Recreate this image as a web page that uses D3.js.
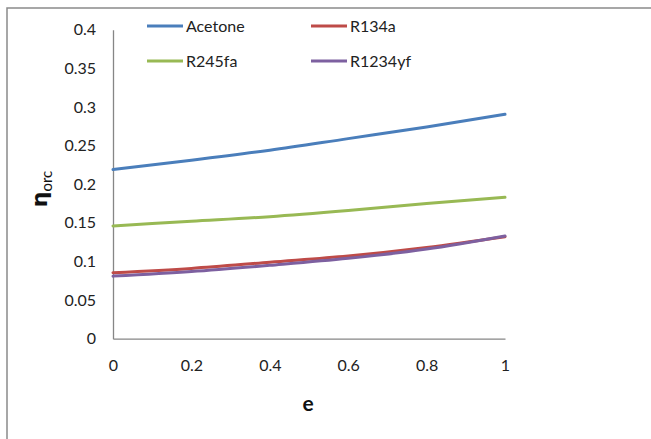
<!DOCTYPE html>
<html>
<head>
<meta charset="utf-8">
<script src="https://cdn.jsdelivr.net/npm/d3@7"></script>
<style>
  html, body { margin: 0; padding: 0; background: #fff; }
  svg { display: block; font-family: Lato, "Open Sans", sans-serif; }
</style>
</head>
<body>
<svg id="chart" width="651" height="439"></svg>
<script>
// Expansion ratio e on the x axis
const eValues = [0, 0.2, 0.4, 0.6, 0.8, 1];

// ORC thermal efficiency per working fluid
const acetone = [0.219, 0.231, 0.244, 0.259, 0.274, 0.2905];
const r134a   = [0.0855, 0.091, 0.099, 0.107, 0.118, 0.132];
const r245fa  = [0.146, 0.152, 0.158, 0.166, 0.175, 0.183];
const r1234yf = [0.081, 0.087, 0.095, 0.104, 0.116, 0.133];

const seriesNames  = ["Acetone", "R134a", "R245fa", "R1234yf"];
const seriesValues = [acetone, r134a, r245fa, r1234yf];
const seriesColors = ["#4a7ebb", "#be4b48", "#98b954", "#7d60a0"];

const xTicks = [0, 0.2, 0.4, 0.6, 0.8, 1];
const yTicks = [0, 0.05, 0.1, 0.15, 0.2, 0.25, 0.3, 0.35, 0.4];

const svg = d3.select("#chart");

// outer chart frame
svg.append("rect")
  .attr("x", 7).attr("y", 8)
  .attr("width", 700).attr("height", 500)
  .attr("fill", "none").attr("stroke", "#8a8a8a").attr("stroke-width", 1.5);

const plotLeft = 113, plotRight = 505, plotTop = 29.7, plotBottom = 338.7;
const x = d3.scaleLinear().domain([0, 1]).range([plotLeft, plotRight]);
const y = d3.scaleLinear().domain([0, 0.4]).range([plotBottom, plotTop]);

const axisColor = "#868686";

const yAxis = svg.append("g")
  .attr("transform", `translate(${plotLeft},0)`)
  .call(d3.axisLeft(y).tickValues(yTicks).tickSize(0).tickPadding(17)
    .tickFormat(d => String(+d.toFixed(2))));
const xAxis = svg.append("g")
  .attr("transform", `translate(0,${plotBottom})`)
  .call(d3.axisBottom(x).tickValues(xTicks).tickSize(0).tickPadding(21)
    .tickFormat(d => String(+d.toFixed(1))));

[xAxis, yAxis].forEach(g => {
  g.select(".domain").attr("stroke", axisColor).attr("stroke-width", 1.3);
  g.selectAll("text").attr("font-family", "Lato, sans-serif")
    .attr("font-size", 16).attr("fill", "#222");
});

// series lines
const line = d3.line()
  .x((d, i) => x(eValues[i]))
  .y(d => y(d))
  .curve(d3.curveMonotoneX);

seriesValues.forEach((vals, k) => {
  svg.append("path")
    .datum(vals)
    .attr("d", line)
    .attr("fill", "none")
    .attr("stroke", seriesColors[k])
    .attr("stroke-width", 3)
    .attr("stroke-linecap", "round");
});

// legend, two columns by two rows
const legendPos = [[147, 26], [311, 26], [147, 61], [311, 61]];
seriesNames.forEach((name, k) => {
  const [lx, ly] = legendPos[k];
  svg.append("line")
    .attr("x1", lx).attr("x2", lx + 36)
    .attr("y1", ly).attr("y2", ly)
    .attr("stroke", seriesColors[k]).attr("stroke-width", 3);
  svg.append("text")
    .attr("x", lx + 39).attr("y", ly)
    .attr("dy", "0.35em")
    .attr("font-size", 16).attr("fill", "#222")
    .text(name);
});

// axis titles
svg.append("text")
  .attr("x", (plotLeft + plotRight) / 2 - 1).attr("y", 404)
  .attr("dy", "0.35em")
  .attr("text-anchor", "middle")
  .attr("font-size", 21).attr("font-weight", "bold").attr("fill", "#111")
  .text("e");

// eta with subscript "orc", rotated to read upward
const yTitle = svg.append("text")
  .attr("transform", "translate(47,189) rotate(-90)")
  .attr("text-anchor", "middle")
  .attr("fill", "#111");
yTitle.append("tspan")
  .attr("font-family", "'DejaVu Sans', sans-serif")
  .attr("font-size", 22).attr("font-weight", "bold")
  .text("η");
yTitle.append("tspan")
  .attr("font-size", 15).attr("dy", 5)
  .text("orc");
</script>
</body>
</html>
